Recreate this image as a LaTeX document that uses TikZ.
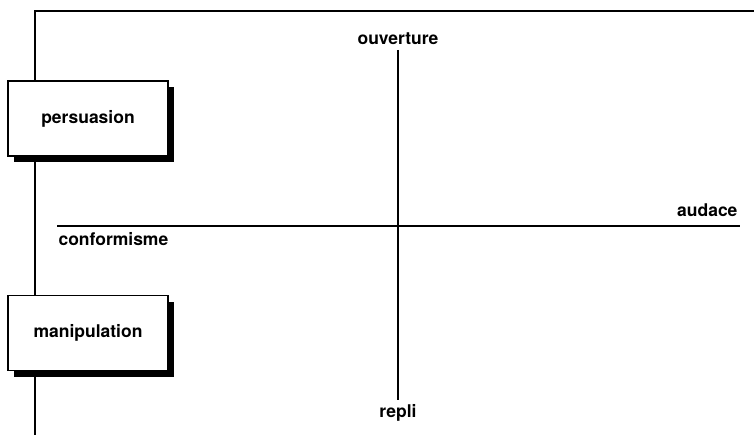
\documentclass[tikz,border=0pt]{standalone}
\usepackage{fontspec}
\setmainfont{TeX Gyre Heros}
\usetikzlibrary{positioning,%
                shadows,%
                calc
              }
\def\boxelements{{(88,118.5)/pers/persuasion},%
  {(88,333)/mani/manipulation}%
}
\begin{document}
\begin{tikzpicture}[x=1pt,y=-1pt,line width=1.1pt,
    every node/.style={font=\fontsize{17.5}{20}\selectfont\bfseries,inner sep=0pt},
    choicebox/.style={rectangle,draw,fill=white,minimum width=160pt,
      minimum height=75pt,
      drop shadow={fill=black,opacity=1,shadow xshift=6pt,shadow yshift=-6pt}}]

  \useasboundingbox (0,0) rectangle (754,435);

  % frame on the left and on top
  \coordinate (fb) at (35,436);
  \coordinate (fc) at (35,11);
  \coordinate (fr) at (755,11);
  \draw (fb) -- (fc) -- (fr);%

  % the two axes
  \coordinate (hl) at (57,226);
  \coordinate (hr) at (740,226);
  \node[anchor=base] (ouv) at (398,45) {ouverture};
  \node[anchor=base] (rep) at (398,417) {repli};
  \node[anchor=base east] (aud) at (738,217) {audace};
  \node[anchor=base west] (con) at (58,246) {conformisme};
  \draw (hl) -- (hr);%
  \draw ([yshift=-5pt]ouv.base) -- ([yshift=17pt]rep.base);%

  \foreach \xy/\bname/\btext in \boxelements {%
    \node[choicebox] (\bname) at \xy {\btext};%
  }

\end{tikzpicture}
\end{document}
